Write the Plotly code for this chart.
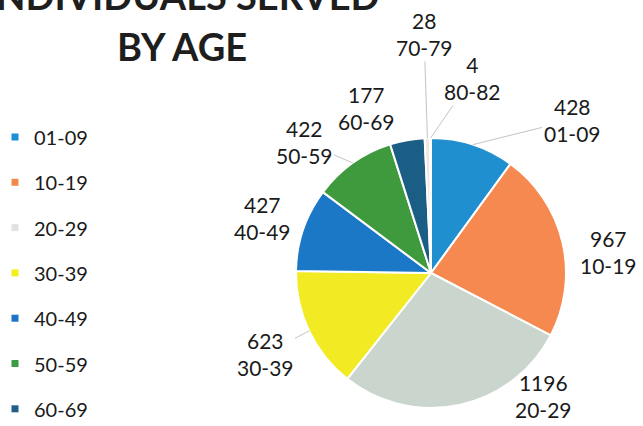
import math
import plotly.graph_objects as go

ages = ["01-09", "10-19", "20-29", "30-39", "40-49", "50-59", "60-69", "70-79", "80-82"]
counts = [428, 967, 1196, 623, 427, 422, 177, 28, 4]
colors = ["#1f8fcf", "#f5894f", "#c9d5cd", "#f2ea22", "#1b78c6", "#3f9a3e",
          "#1b5e85", "#efe6e3", "#d46a5a"]
legend_colors = ["#1b8fd6", "#f08a4b", "#dfe3e1", "#f2f01c", "#1a73c6", "#3d9a45", "#1f5f8a"]
legend_items = ages[:7]          # the part of the legend visible in the picture
title_lines = ["INDIVIDUALS SERVED", "BY AGE"]

W, H = 643, 426
FONT = "Lato, Carlito, Calibri, sans-serif"

# ---- layout / style specs (pixels) ----
cx, cy, R = 431, 273, 135
# label block centres (pixels) and whether a leader line is drawn
label_layout = [(572, 120, True), (608, 252, False), (543, 396, False), (265, 354, True),
                (262, 218, False), (304, 142, True), (366, 108, False), (424, 34, True),
                (472, 78, True)]
leg_x, leg_y0, leg_dy = 15, 137, 45.3

def px(x):
    return x / W

def py(y):
    return 1 - y / H

fig = go.Figure()
fig.add_trace(go.Pie(
    labels=ages, values=counts, sort=False, direction="clockwise", rotation=0,
    marker=dict(colors=colors, line=dict(color="white", width=2)),
    textinfo="none", showlegend=False, hoverinfo="label+value",
    domain=dict(x=[px(cx - R), px(cx + R)], y=[py(cy + R), py(cy - R)]),
))

# data labels, anchored on each slice's mid-angle at the rim
total = sum(counts)
cum = 0
for a, v, (lx, ly, line) in zip(ages, counts, label_layout):
    mid = (cum + v / 2) / total * 2 * math.pi
    cum += v
    ex = cx + R * math.sin(mid)
    ey = cy - R * math.cos(mid)
    fig.add_annotation(
        text=f"{v}<br>{a}", xref="paper", yref="paper", x=px(ex), y=py(ey),
        ax=lx - ex, ay=ly - ey, axref="pixel", ayref="pixel",
        showarrow=True, arrowhead=0, arrowwidth=1,
        arrowcolor="#c4c4c4" if line else "rgba(0,0,0,0)", standoff=0,
        xanchor="center", yanchor="middle", align="center",
        font=dict(family=FONT, size=21, color="#1a1a1a"),
    )

# legend (visible part)
for i, (a, c) in enumerate(zip(legend_items, legend_colors)):
    yy = leg_y0 + i * leg_dy
    fig.add_shape(type="rect", xref="paper", yref="paper",
                  x0=px(leg_x - 3.5), x1=px(leg_x + 3.5), y0=py(yy + 3.5), y1=py(yy - 3.5),
                  fillcolor=c, line=dict(width=0))
    fig.add_annotation(text=a, xref="paper", yref="paper", x=px(leg_x + 17), y=py(yy),
                       xanchor="left", yanchor="middle", showarrow=False,
                       font=dict(family=FONT, size=20, color="#1a1a1a"))

# title (first line partly cut by the top edge, as in the picture)
for t, yc in zip(title_lines, [-5, 46]):
    fig.add_annotation(text=f"<b>{t}</b>", xref="paper", yref="paper",
                       x=px(182), y=py(yc), xanchor="center", yanchor="middle",
                       showarrow=False, font=dict(family=FONT, size=38, color="#1e1e1e"))

fig.update_layout(
    width=W, height=H, margin=dict(l=0, r=0, t=0, b=0),
    paper_bgcolor="white", plot_bgcolor="white",
)

fig.write_html("out.html")
